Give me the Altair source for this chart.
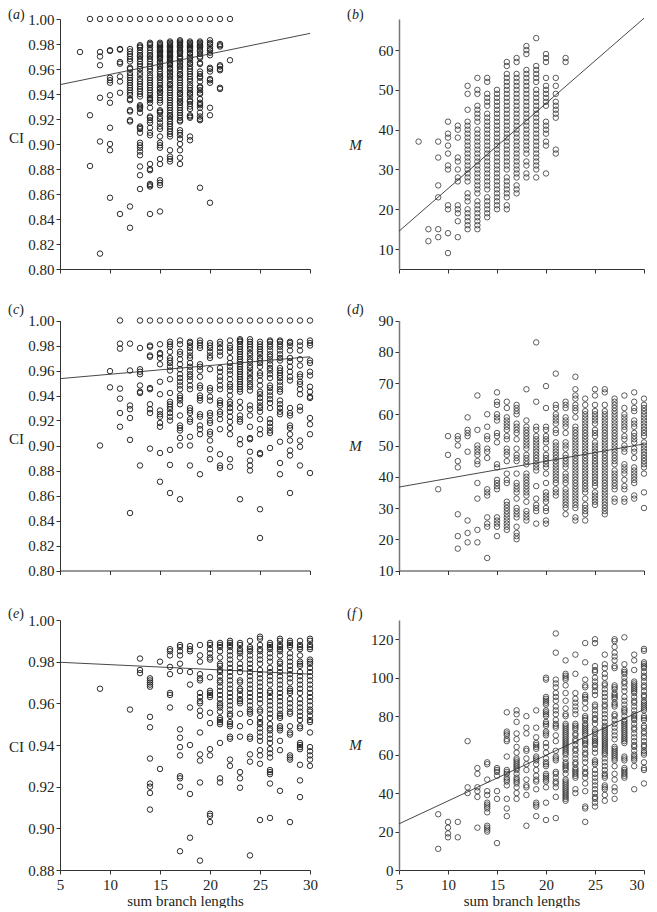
import altair as alt
import pandas as pd

A = {
7:[.9736],
8:[1.0,.923,.8824],
9:[1.0,.9736,.970,.963,.937,.902,.8123],
10:[1.0,.975,.9745,.953,.951,.949,.939,.933,.913,.900,.895,.857],
11:[1.0,.976,.9755,.9656,.9643,.954,.950,.941,.844],
12:[1.0,.976,.974,.972,.970,.968,.966,.961,.960,.957,.955,.953,.951,.949,.947,.945,.943,.941,.939,.936,.935,.927,.926,.919,.918,.850,.833],
13:[1.0,.979,.978,.977,.975,.973,.971,.970,.968,.966,.964,.962,.960,.957,.955,.952,.950,.948,.946,.944,.942,.940,.938,.931,.930,.929,.928,.925,.914,.913,.912,.909,.901,.899,.897,.894,.891,.882,.875,.864],
14:[1.0,.981,.980,.979,.977,.975,.973,.971,.970,.968,.966,.964,.962,.960,.958,.955,.953,.951,.949,.947,.945,.943,.941,.939,.937,.936,.935,.933,.929,.922,.921,.919,.917,.913,.909,.907,.884,.880,.879,.868,.867,.866,.844],
15:[1.0,.981,.980,.979,.978,.977,.976,.975,.974,.973,.972,.971,.970,.969,.968,.966,.965,.963,.962,.960,.958,.956,.954,.953,.951,.949,.947,.945,.944,.942,.941,.939,.937,.935,.933,.927,.926,.925,.922,.920,.917,.914,.912,.906,.901,.899,.897,.888,.884,.871,.869,.867,.846],
16:[1.0,.982,.981,.980,.979,.978,.977,.976,.975,.974,.973,.972,.971,.970,.969,.968,.967,.966,.965,.964,.963,.961,.960,.958,.957,.955,.954,.952,.950,.948,.947,.945,.943,.941,.939,.937,.935,.933,.931,.929,.927,.925,.923,.922,.920,.918,.916,.914,.912,.910,.908,.906,.895,.890,.888,.886],
17:[1.0,.983,.982,.981,.980,.979,.978,.977,.975,.974,.973,.972,.970,.969,.968,.966,.965,.963,.962,.960,.958,.956,.955,.953,.951,.949,.947,.945,.943,.941,.940,.938,.936,.934,.933,.931,.929,.927,.925,.923,.921,.919,.918,.911,.909,.907,.904,.900,.895,.889,.884],
18:[1.0,.982,.981,.980,.979,.978,.977,.976,.975,.973,.972,.970,.969,.967,.965,.964,.962,.960,.958,.956,.954,.952,.950,.947,.945,.943,.941,.940,.938,.935,.934,.932,.930,.928,.923,.922,.921,.906,.903],
19:[1.0,.982,.981,.980,.979,.978,.977,.975,.974,.972,.970,.969,.965,.964,.958,.956,.954,.953,.950,.946,.945,.943,.941,.940,.936,.933,.932,.931,.929,.925,.922,.920,.919,.865],
20:[1.0,.983,.981,.980,.978,.976,.975,.973,.971,.961,.960,.958,.952,.951,.949,.929,.923,.853],
21:[1.0,.980,.979,.978,.963,.962,.960,.959,.945,.944],
22:[1.0,.967],
}
B = {
7:[37],
8:[15,12],
9:[37,33,26,23,15,13],
10:[42,39,38,36,34,31,30,21,20,14,9],
11:[41,40,38,33,32,30,28,27,21,20,19,17,13],
12:[51,49,45,42,41,40,39,38,37,36,35,34,33,32,31,30,29,28,27,24,23,22,20,19,18,17,16,15],
13:[53,50,49,46,45,44,43,42,40,39,38,37,36,35,34,33,32,31,30,29,28,27,26,25,24,22,21,20,19,18,17,16,15],
14:[53,52,49,48,47,46,44,43,42,41,40,39,38,37,36,35,34,33,32,31,30,29,28,27,26,25,23,22,21,20,19,18],
15:[50,49,48,47,46,45,44,43,42,41,40,39,38,37,36,35,34,33,32,31,30,29,28,27,26,25,24,23,22,21,20],
16:[57,56,54,53,52,51,50,49,48,47,46,45,44,43,42,41,40,39,38,37,36,35,34,33,32,31,30,28,27,26,25,24,23,21,20],
17:[58,57,54,53,52,51,50,49,48,47,46,45,44,43,42,41,40,39,38,37,36,35,34,33,32,31,30,29,28,26,25,24],
18:[61,60,59,55,54,53,52,51,50,49,48,47,46,45,44,43,42,41,40,39,38,37,36,35,34,32,31,29,28],
19:[63,56,55,54,53,52,50,49,48,47,46,45,44,43,42,41,40,39,38,37,36,35,34,33,32,31,30,28],
20:[59,58,57,53,51,50,49,48,47,46,42,41,40,39,37,36,29],
21:[53,51,49,47,46,45,44,43,35,34],
22:[58,57],
}
C = {
9:[.900],
10:[.9595,.9465],
11:[1.0,.9815,.9775,.9455,.9375,.926,.915],
12:[.9815,.960,.932,.929,.922,.9045,.846],
13:[1.0,.978,.961,.959,.957,.948,.943,.942,.884],
14:[1.0,.980,.979,.972,.971,.946,.945,.933,.929,.926,.8975],
15:[1.0,.981,.974,.973,.970,.965,.951,.941,.928,.925,.923,.918,.915,.894,.871],
16:[1.0,.983,.981,.979,.975,.970,.968,.966,.963,.960,.953,.942,.935,.933,.931,.929,.926,.923,.920,.8965,.8845,.862],
17:[1.0,.984,.981,.975,.973,.969,.965,.961,.957,.954,.951,.948,.945,.940,.938,.936,.933,.924,.916,.914,.912,.906,.900,.857],
18:[1.0,.983,.982,.980,.978,.975,.972,.970,.966,.963,.960,.957,.955,.952,.948,.945,.930,.928,.926,.921,.919,.907,.900,.884],
19:[1.0,.984,.982,.980,.978,.965,.963,.960,.955,.948,.946,.940,.938,.936,.925,.923,.916,.913,.909,.877],
20:[1.0,.982,.980,.978,.975,.972,.970,.961,.946,.944,.939,.936,.926,.924,.920,.918,.911,.909,.904,.897,.889],
21:[1.0,.983,.981,.978,.975,.972,.962,.959,.955,.952,.948,.945,.936,.934,.932,.927,.925,.921,.913,.893,.884,.882],
22:[1.0,.984,.980,.978,.975,.970,.966,.963,.960,.957,.953,.949,.947,.944,.940,.935,.933,.930,.927,.923,.919,.914,.909,.889,.883],
23:[1.0,.985,.984,.983,.981,.979,.977,.975,.973,.971,.969,.967,.965,.963,.961,.959,.957,.955,.953,.951,.949,.947,.945,.943,.935,.930,.924,.921,.919,.905,.901,.857],
24:[1.0,.985,.983,.981,.979,.977,.974,.972,.969,.967,.964,.962,.959,.957,.954,.952,.949,.947,.944,.932,.929,.924,.915,.906,.905,.895,.888,.884,.880],
25:[1.0,.983,.981,.979,.977,.975,.973,.970,.968,.966,.963,.958,.956,.952,.948,.943,.941,.938,.935,.932,.930,.927,.921,.913,.909,.894,.893,.849,.826],
26:[1.0,.984,.983,.981,.979,.976,.973,.971,.968,.965,.962,.960,.957,.954,.948,.946,.943,.940,.937,.934,.930,.921,.918,.915,.912,.910,.898],
27:[1.0,.984,.983,.981,.979,.976,.973,.970,.968,.962,.960,.958,.956,.954,.951,.948,.945,.943,.936,.933,.930,.927,.925,.903,.886,.877],
28:[1.0,.983,.982,.980,.976,.970,.967,.963,.959,.955,.952,.930,.926,.924,.916,.914,.909,.904,.896,.892,.862],
29:[1.0,.983,.980,.976,.969,.964,.957,.955,.951,.949,.945,.941,.931,.928,.904,.899,.884],
30:[1.0,.984,.982,.980,.968,.966,.959,.956,.947,.943,.939,.938,.922,.917,.909,.878],
}
D = {
9:[36],
10:[53,47],
11:[53,52,50,45,43,28,21,17],
12:[59,55,54,53,48,26,22,19],
13:[66,55,50,49,48,47,45,44,38,33,23,19],
14:[60,56,53,52,49,48,46,36,35,34,27,25,24,14],
15:[67,64,63,60,59,58,54,53,51,44,43,39,38,37,36,27,26,25,24,21],
16:[64,62,59,58,57,56,55,53,52,49,48,47,45,41,39,38,32,31,30,29,28,27,26,25,24,23],
17:[63,62,61,60,57,56,55,54,52,49,47,46,45,41,38,37,36,35,33,30,29,28,27,24,22,21,20],
18:[68,58,56,55,54,53,52,51,50,49,47,46,45,44,41,40,39,38,37,36,35,34,32,29,28,27,26],
19:[83,64,56,55,53,52,51,50,49,48,47,46,45,44,43,42,37,33,31,30,29,25],
20:[69,62,56,55,53,52,51,49,47,46,45,44,43,41,38,35,34,33,32,30,29,26,25],
21:[73,63,62,60,59,58,57,55,54,51,50,49,48,47,46,45,44,43,42,41,40,39,38,36,35,34],
22:[64,63,62,59,58,57,56,54,51,50,49,47,46,45,44,43,41,40,39,38,36,35,34,33,32,31,30,28],
23:[72,68,66,65,63,62,61,59,56,55,54,53,52,51,50,49,48,47,46,45,44,43,42,41,40,39,38,37,36,35,34,33,32,31,30,27,26],
24:[65,63,61,60,59,58,57,56,55,54,53,52,51,50,49,48,47,46,45,44,43,42,41,40,39,38,37,36,35,33,31,30,29,28,26],
25:[68,66,63,61,60,59,58,57,55,54,53,51,50,49,48,47,46,45,44,43,42,41,40,39,38,37,35,34,33,32,31],
26:[68,67,63,61,60,59,58,57,56,55,54,53,52,51,50,49,48,47,46,45,44,43,42,41,40,39,38,37,36,35,34,33,32,31,30,29,28],
27:[65,64,63,62,61,60,59,58,57,56,55,54,53,52,51,50,49,48,47,46,45,44,42,41,40,39,38,37,36,33,32],
28:[66,62,60,59,58,57,56,55,53,52,50,49,48,44,43,42,41,39,37,36,33,32],
29:[67,64,62,61,58,57,56,54,53,52,51,49,48,46,43,42,41,40,39,38,34,33],
30:[65,63,62,61,60,59,58,57,56,55,54,53,51,50,49,48,47,46,45,44,43,41,35,30],
}
E = {
9:[.967],
12:[.957],
13:[.9815,.976,.9745],
14:[.972,.971,.970,.969,.968,.9535,.9485,.9335,.9215,.920,.917,.909],
15:[.980,.9285],
16:[.986,.985,.983,.9775,.974,.965,.964,.958],
17:[.988,.987,.985,.983,.979,.9755,.9475,.9435,.939,.935,.925,.924,.920,.889],
18:[.9875,.986,.985,.975,.969,.958,.940,.9165,.8955],
19:[.988,.983,.980,.974,.972,.971,.965,.963,.961,.960,.9565,.954,.946,.9355,.9325,.922,.8845],
20:[.989,.988,.986,.984,.982,.981,.9725,.966,.965,.964,.963,.9555,.9505,.938,.935,.907,.906,.903],
21:[.989,.988,.987,.985,.982,.979,.978,.976,.975,.973,.971,.970,.968,.966,.964,.962,.960,.959,.958,.956,.953,.952,.951,.950,.941,.924,.922],
22:[.990,.989,.988,.987,.985,.983,.981,.979,.977,.975,.973,.971,.969,.967,.965,.963,.961,.959,.957,.955,.954,.951,.950,.949,.944,.943,.933,.930],
23:[.989,.988,.986,.985,.984,.982,.979,.977,.975,.971,.970,.967,.966,.964,.962,.961,.960,.955,.949,.944,.927,.924,.9195],
24:[.990,.987,.986,.985,.983,.981,.979,.977,.975,.973,.971,.969,.967,.965,.963,.961,.959,.957,.956,.955,.951,.944,.943,.9355,.932,.887],
25:[.992,.991,.988,.986,.985,.983,.981,.979,.976,.974,.972,.970,.968,.966,.964,.962,.960,.957,.956,.953,.951,.950,.948,.946,.944,.942,.9375,.935,.931,.904],
26:[.989,.988,.987,.986,.984,.982,.980,.977,.975,.973,.971,.969,.966,.965,.963,.961,.959,.957,.955,.953,.950,.948,.947,.945,.943,.941,.938,.936,.934,.928,.927,.926,.9215,.905],
27:[.991,.990,.988,.987,.986,.985,.983,.980,.979,.977,.975,.973,.971,.969,.967,.965,.963,.961,.959,.957,.955,.954,.953,.949,.948,.947,.942,.9375,.918],
28:[.990,.989,.988,.987,.984,.982,.980,.978,.976,.974,.972,.970,.967,.966,.965,.962,.960,.958,.956,.955,.949,.946,.945,.935,.934,.933,.903],
29:[.990,.988,.987,.986,.983,.980,.979,.978,.975,.973,.971,.969,.967,.965,.962,.960,.958,.956,.954,.952,.949,.948,.941,.940,.939,.938,.9305,.923,.915],
30:[.991,.990,.988,.987,.986,.981,.980,.979,.977,.975,.973,.971,.969,.967,.965,.963,.961,.959,.957,.956,.954,.952,.951,.946,.939,.937,.935,.933,.930],
}
F = {
9:[29,11],
10:[25,22,19,17],
11:[25,17],
12:[67,43,40],
13:[53,50,43,41,38,22],
14:[56,55,47,41,39,35,34,33,32,30,23,22,21,20],
15:[53,52,51,49,41,37,14],
16:[82,72,71,70,68,67,59,52,51,50,48,47,46,44,37,32,28],
17:[83,81,77,71,68,64,61,58,57,56,55,54,53,52,50,48,47,46,45,43,40,37],
18:[80,74,71,63,62,58,55,52,47,44,43,39,23],
19:[83,74,69,66,65,64,63,59,58,57,55,52,49,47,46,42,35,34,33,28],
20:[100,99,90,89,88,87,86,83,82,81,80,77,76,75,72,71,70,66,64,61,58,56,55,54,50,49,48,47,46,43,35,26],
21:[123,113,99,97,95,92,90,88,85,83,81,78,76,75,74,70,67,62,59,58,57,51,50,48,46,45,43,38,27],
22:[109,102,101,100,99,96,92,88,84,81,80,76,75,74,73,72,71,70,69,68,67,66,65,64,63,62,61,60,58,56,55,54,53,52,50,47,46,45,44,43,42,41,40,39,38,37,36],
23:[112,102,92,89,87,85,83,81,76,75,74,73,71,70,68,67,65,63,62,60,58,56,55,53,52,51,50,49,48,42,40],
24:[118,108,99,96,95,91,90,89,87,84,80,79,78,76,75,74,73,72,71,70,68,67,66,65,63,61,60,58,56,53,51,50,48,45,41,33,32,25],
25:[120,118,106,104,103,100,98,96,95,93,91,86,85,83,81,79,78,76,73,72,71,69,68,67,66,65,63,61,57,56,55,52,50,48,46,44,42,40,38,37,35,33],
26:[112,107,105,102,100,97,96,94,92,90,88,86,85,83,81,79,77,75,74,73,72,71,70,69,68,67,66,65,64,63,62,61,60,58,56,54,52,50,49,48,44,43,42,39,36],
27:[120,119,116,113,111,109,106,105,96,95,94,92,91,90,89,87,86,85,81,80,78,76,74,72,70,68,64,63,62,61,60,59,58,57,54,50,47,43,41,37],
28:[121,107,104,103,102,100,98,97,95,93,90,88,86,84,83,82,80,78,77,76,75,74,73,72,71,70,69,68,67,66,59,58,57,53,52,51,50,49,48],
29:[112,109,104,98,97,96,95,94,93,92,90,88,87,85,83,81,80,79,78,76,74,73,71,69,67,65,64,62,60,59,58,57,54,42],
30:[115,114,108,107,106,105,103,101,100,98,96,95,93,91,90,88,87,86,85,84,83,80,79,78,75,74,72,71,69,67,65,64,62,61,60,56,53,52,45],
}
LINE_X = [5, 30]
LINE_A = [.9475, .9885]
LINE_B = [14.5, 68]
LINE_C = [.9535, .971]
LINE_D = [36.7, 50.5]
LINE_E = [.9797, .974]
LINE_F = [24, 83.5]
TICKS_X = [5, 10, 15, 20, 25, 30]
TICKS_CI = [.80, .82, .84, .86, .88, .90, .92, .94, .96, .98, 1.00]
TICKS_CI_E = [.88, .90, .92, .94, .96, .98, 1.00]
TICKS_B = [10, 20, 30, 40, 50, 60]
TICKS_D = [10, 20, 30, 40, 50, 60, 70, 80, 90]
TICKS_F = [0, 20, 40, 60, 80, 100, 120]

FONT = "Liberation Serif"
INK = "#231f20"


def letter_marks(letter, lx, ly):
    base = alt.Data(values=[{"k": 0}])
    widths = {"a": 7, "b": 7, "c": 6.2, "d": 7, "e": 6.2, "f": 6}
    w = widths[letter]
    common = dict(font=FONT, fontSize=14, color=INK, align="left", baseline="alphabetic")
    return [
        alt.Chart(base).mark_text(text="(", **common).encode(x=alt.value(lx), y=alt.value(ly)),
        alt.Chart(base).mark_text(text=letter, fontStyle="italic", **common).encode(x=alt.value(lx + 5), y=alt.value(ly)),
        alt.Chart(base).mark_text(text=")", **common).encode(x=alt.value(lx + 5 + w), y=alt.value(ly)),
    ]


def panel(cols, line, dom, ticks, fmt, ytitle, letter, bottom, right, title_dy, height=250, inset=0, letter_y=-1):
    rows = [{"x": x, "y": v} for x, vals in cols.items() for v in vals]
    df = pd.DataFrame(rows)
    ldf = pd.DataFrame({"x": LINE_X, "y": line})
    width = 245 if right else 250
    xax = alt.Axis(values=TICKS_X, tickCount=8, labels=bottom, title="sum branch lengths" if bottom else None,
                   grid=False, tickSize=4, labelFont=FONT, labelFontSize=15, labelColor=INK,
                   labelPadding=3, titleFont=FONT, titleFontSize=15, titleFontWeight="normal",
                   titleColor=INK, titleX=width / 2, titleY=30, titleAlign="center", titleBaseline="middle",
                   tickColor="#333333", domainColor="#333333", labelFlush=False, labelOverlap=False,
                   labelAlign={"condition": {"test": "datum.value == 30", "value": "right" if right else "center"}, "value": "center"})
    yax = alt.Axis(values=ticks, tickCount=len(ticks) + 2, format=fmt, title=ytitle, grid=False, tickSize=4,
                   labelFont=FONT, labelFontSize=15, labelColor=INK, labelPadding=2, labelOverlap=False,
                   titleFont=FONT, titleFontSize=15, titleFontWeight="normal", titleColor=INK,
                   titleFontStyle="italic" if right else "normal", titleAngle=0,
                   titleAlign="center", titleBaseline="middle",
                   titleX=-44, titleY=inset + 125 + title_dy,
                   tickColor="#333333", domainColor="#777777" if right else "#333333",
                   domainWidth=1.5 if right else 1, labelFlush=False)
    xs = alt.X("x:Q", scale=alt.Scale(domain=[5, 30], nice=False), axis=xax)
    ys = alt.Y("y:Q", scale=alt.Scale(domain=dom, nice=False, range=[height, inset]), axis=yax)
    pts = alt.Chart(df).mark_point(shape="circle", filled=False, size=30,
                                   stroke="#333333" if right else "#222222",
                                   strokeWidth=0.8 if right else 0.95, opacity=1).encode(x=xs, y=ys)
    ln = alt.Chart(ldf).mark_line(color="#333333", strokeWidth=0.9, clip=False).encode(x="x:Q", y="y:Q")
    return alt.layer(pts, ln, *letter_marks(letter, -52, letter_y)).properties(width=width, height=height)


a = panel(A, LINE_A, [.80, 1.0], TICKS_CI, ".2f", "CI", "a", False, False, -7, letter_y=0)
b = panel(B, LINE_B, [5, 67.8], TICKS_B, "d", "M", "b", False, True, 0, letter_y=0)
c = panel(C, LINE_C, [.80, 1.0], TICKS_CI, ".2f", "CI", "c", False, False, -7, height=252.5, inset=2.5, letter_y=-4)
d = panel(D, LINE_D, [10, 90], TICKS_D, "d", "M", "d", False, True, 0, height=252.5, inset=2.5, letter_y=-4)
e = panel(E, LINE_E, [.88, 1.0], TICKS_CI_E, ".2f", "CI", "e", True, False, 1, letter_y=-2)
f = panel(F, LINE_F, [0, 130], TICKS_F, "d", "M", "f", True, True, -1, letter_y=-2)

chart = alt.concat(a, b, c, d, e, f, columns=2, spacing={"row": 49, "column": 89}, bounds="flush").properties(padding={"left": 0, "top": 0, "right": -2, "bottom": 0}).configure_view(stroke=None)
chart.save("out.html", embed_options={"renderer": "svg", "actions": False})
